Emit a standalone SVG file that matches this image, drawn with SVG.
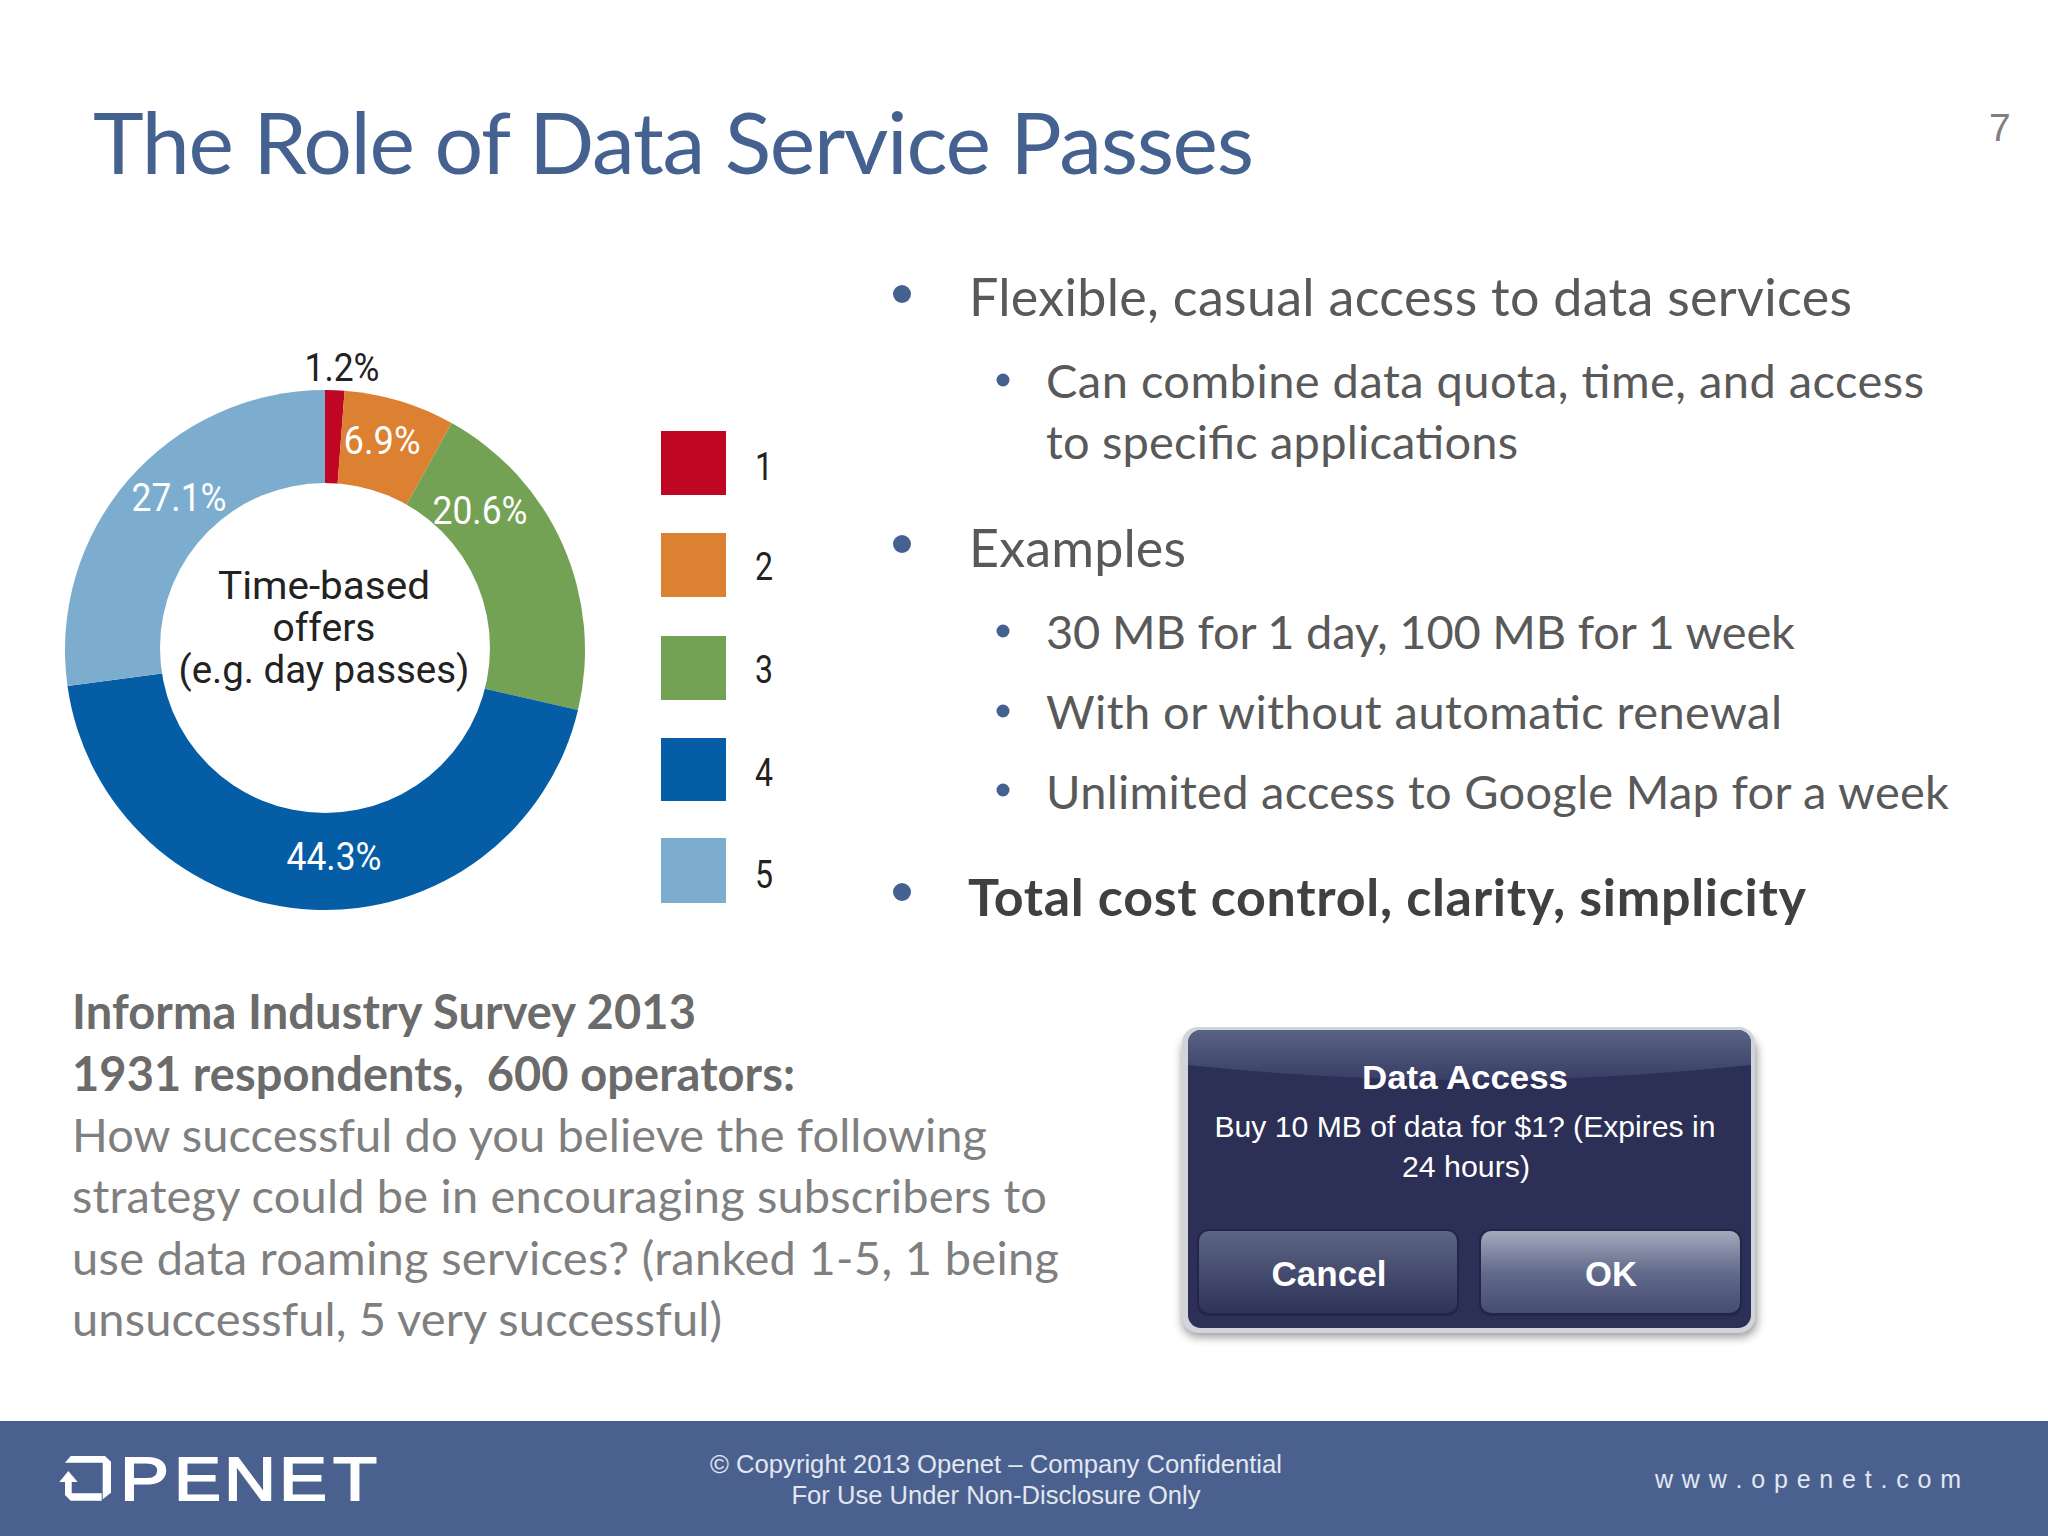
<svg xmlns="http://www.w3.org/2000/svg" width="2048" height="1536" viewBox="0 0 2048 1536">
<defs>
<style>
.b{font-family:"Lato","Open Sans",sans-serif;font-size:52px;fill:#595959}
.s{font-family:"Lato","Open Sans",sans-serif;font-size:47px;fill:#595959}
.q{font-family:"Lato","Open Sans",sans-serif;font-size:47px;fill:#7f7f7f}
.qb{font-weight:700;fill:#6b6b6b}
.c{font-family:"Roboto","Liberation Sans",sans-serif;font-size:38px;text-anchor:middle}
.w{fill:#fff}.k{fill:#222}
.d{font-family:"Liberation Sans",Arial,sans-serif;fill:#fff;text-anchor:middle}
.f{font-family:"Liberation Sans",Arial,sans-serif;fill:#e3e7f0;text-anchor:middle;font-size:26px}
</style>
<linearGradient id="canc" x1="0" y1="0" x2="0" y2="1"><stop offset="0" stop-color="#5d6585"/><stop offset="1" stop-color="#2e3358"/></linearGradient>
<linearGradient id="okg" x1="0" y1="0" x2="0" y2="1"><stop offset="0" stop-color="#a4a9bc"/><stop offset=".5" stop-color="#636b8c"/><stop offset="1" stop-color="#454c72"/></linearGradient>
<linearGradient id="gl" x1="0" y1="0" x2="0" y2="1"><stop offset="0" stop-color="#5a6285"/><stop offset="1" stop-color="#383e65"/></linearGradient>
<filter id="sh" x="-10%" y="-10%" width="120%" height="125%"><feGaussianBlur stdDeviation="5"/></filter>
</defs>
<rect width="2048" height="1536" fill="#fff"/>
<g id="title"><text x="93" y="174" font-family="Lato,'Open Sans',sans-serif" font-size="86" fill="#44618f" textLength="1161" lengthAdjust="spacing">The Role of Data Service Passes</text></g>
<text id="page" x="1989" y="141" font-family="'Liberation Sans',Arial,sans-serif" font-size="39" fill="#7f7f7f">7</text>
<g id="donut">
<path fill="#bf0623" d="M325 390A260 260 0 0 1 344.6 390.7L325 652Z"/>
<path fill="#dc8031" d="M344.6 390.7A260 260 0 0 1 451.7 423L325 652Z"/>
<path fill="#74a255" d="M451.7 423A260 260 0 0 1 578 710L325 652Z"/>
<path fill="#055da6" d="M578 710A260 260 0 0 1 67.5 686L325 652Z"/>
<path fill="#7dadce" d="M67.5 686A260 260 0 0 1 325 390L325 652Z"/>
<circle cx="325" cy="648" r="165" fill="#fff"/>
<text class="c k" x="342" y="381" textLength="75" lengthAdjust="spacingAndGlyphs">1.2%</text>
<text class="c w" x="382" y="454" textLength="77" lengthAdjust="spacingAndGlyphs">6.9%</text>
<text class="c w" x="480" y="524" textLength="95" lengthAdjust="spacingAndGlyphs">20.6%</text>
<text class="c w" x="179" y="511" textLength="95" lengthAdjust="spacingAndGlyphs">27.1%</text>
<text class="c w" x="334" y="870" textLength="95" lengthAdjust="spacingAndGlyphs">44.3%</text>
<text class="c k" x="324" y="599" textLength="212" lengthAdjust="spacingAndGlyphs">Time-based</text>
<text class="c k" x="324" y="641" textLength="103" lengthAdjust="spacingAndGlyphs">offers</text>
<text class="c k" x="324" y="683" textLength="291" lengthAdjust="spacingAndGlyphs">(e.g. day passes)</text>
</g>
<g id="legend">
<rect x="661" y="431" width="65" height="64" fill="#bf0623"/><rect x="661" y="533" width="65" height="64" fill="#dc8031"/><rect x="661" y="636" width="65" height="64" fill="#74a255"/><rect x="661" y="738" width="65" height="63" fill="#055da6"/><rect x="661" y="838" width="65" height="65" fill="#7dadce"/>
<text class="c k" x="764" y="480" textLength="18" lengthAdjust="spacingAndGlyphs">1</text><text class="c k" x="764" y="580" textLength="18" lengthAdjust="spacingAndGlyphs">2</text><text class="c k" x="764" y="683" textLength="18" lengthAdjust="spacingAndGlyphs">3</text><text class="c k" x="764" y="786" textLength="18" lengthAdjust="spacingAndGlyphs">4</text><text class="c k" x="764" y="888" textLength="18" lengthAdjust="spacingAndGlyphs">5</text>
</g>
<g id="bullets">
<g fill="#44618f"><circle cx="902" cy="294" r="9"/><circle cx="902" cy="544" r="9"/><circle cx="902" cy="892" r="9"/><circle cx="1003" cy="380" r="6.5"/><circle cx="1003" cy="631" r="6.5"/><circle cx="1003" cy="711" r="6.5"/><circle cx="1003" cy="790" r="6.5"/></g>
<text class="b" x="969" y="316" textLength="883">Flexible, casual access to data services</text>
<text class="s" x="1046" y="398" textLength="878">Can combine data quota, time, and access</text>
<text class="s" x="1046" y="459" textLength="472">to specific applications</text>
<text class="b" x="969" y="567" textLength="217">Examples</text>
<text class="s" x="1046" y="649" textLength="749">30 MB for 1 day, 100 MB for 1 week</text>
<text class="s" x="1046" y="729" textLength="736">With or without automatic renewal</text>
<text class="s" x="1046" y="809" textLength="903">Unlimited access to Google Map for a week</text>
<text class="b" x="968" y="916" font-weight="700" style="fill:#404040" textLength="838">Total cost control, clarity, simplicity</text>
</g>
<g id="survey">
<text class="q qb" x="72" y="1029" textLength="624">Informa Industry Survey 2013</text>
<text class="q qb" x="72" y="1091" textLength="723" xml:space="preserve">1931 respondents,  600 operators:</text>
<text class="q" x="72" y="1152" textLength="915">How successful do you believe the following</text>
<text class="q" x="72" y="1213" textLength="975">strategy could be in encouraging subscribers to</text>
<text class="q" x="72" y="1275" textLength="987">use data roaming services? (ranked 1-5, 1 being</text>
<text class="q" x="72" y="1336" textLength="650">unsuccessful, 5 very successful)</text>
</g>
<g id="dialog">
<rect x="1182" y="1036" width="575" height="301" rx="16" fill="#555" opacity=".6" filter="url(#sh)"/>
<rect x="1182" y="1027" width="573" height="306" rx="16" fill="#d2d4dc"/>
<rect x="1188" y="1030" width="563" height="298" rx="13" fill="#2c2f56"/>
<path fill="url(#gl)" d="M1188 1065V1043A13 13 0 0 1 1201 1030H1738A13 13 0 0 1 1751 1043V1065Q1470 1095 1188 1065Z"/>
<rect x="1197" y="1229" width="262" height="87" rx="12" fill="#23264a"/>
<rect x="1199" y="1231" width="258" height="82" rx="10" fill="url(#canc)"/>
<rect x="1479" y="1229" width="263" height="87" rx="12" fill="#23264a"/>
<rect x="1481" y="1231" width="259" height="82" rx="10" fill="url(#okg)"/>
<text class="d" x="1465" y="1089" font-size="34" font-weight="700" textLength="206" lengthAdjust="spacingAndGlyphs">Data Access</text>
<text class="d" x="1465" y="1137" font-size="30" textLength="501" lengthAdjust="spacingAndGlyphs">Buy 10 MB of data for $1? (Expires in</text>
<text class="d" x="1466" y="1177" font-size="30" textLength="128" lengthAdjust="spacingAndGlyphs">24 hours)</text>
<text class="d" x="1329" y="1286" font-size="35" font-weight="700" textLength="115" lengthAdjust="spacingAndGlyphs">Cancel</text>
<text class="d" x="1611" y="1286" font-size="35" font-weight="700" textLength="52" lengthAdjust="spacingAndGlyphs">OK</text>
</g>
<g id="footer">
<rect y="1421" width="2048" height="115" fill="#4a6190"/>
<g id="logo" fill="#fff">
<path d="M65 1462.7L70.7 1456H105L111 1461.7V1492.7L102.7 1499.3V1462.7Z"/>
<path d="M59.3 1482L68.3 1471L77.7 1482H71.7V1493.3H101.7V1500.7H70.7L65 1495V1482Z"/>
<text y="1500" font-family="'Liberation Sans',Arial,sans-serif" font-size="62" stroke="#fff" stroke-width="1.8"><tspan x="120" textLength="49" lengthAdjust="spacingAndGlyphs">P</tspan><tspan x="174" textLength="47" lengthAdjust="spacingAndGlyphs">E</tspan><tspan x="224" textLength="52" lengthAdjust="spacingAndGlyphs">N</tspan><tspan x="279" textLength="48" lengthAdjust="spacingAndGlyphs">E</tspan><tspan x="333" textLength="44" lengthAdjust="spacingAndGlyphs">T</tspan></text>
</g>
<text class="f" x="996" y="1473" textLength="572" lengthAdjust="spacingAndGlyphs">© Copyright 2013 Openet – Company Confidential</text>
<text class="f" x="996" y="1504" textLength="409" lengthAdjust="spacingAndGlyphs">For Use Under Non-Disclosure Only</text>
<text x="1655" y="1488" font-family="'Liberation Sans',Arial,sans-serif" font-size="25" fill="#e3e7f0" textLength="306">w w w . o p e n e t . c o m</text>
</g>
</svg>
